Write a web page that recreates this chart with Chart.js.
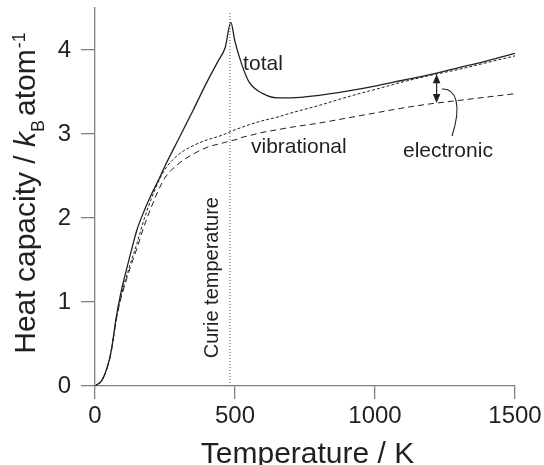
<!DOCTYPE html>
<html><head><meta charset="utf-8">
<script src="https://cdn.jsdelivr.net/npm/chart.js@4/dist/chart.umd.min.js"></script>
<style>html,body{margin:0;padding:0;background:#fff}#wrap{width:544px;height:465px}</style>
</head><body><div id="wrap"><canvas id="c" width="544" height="465"></canvas></div>
<script>
// ---- data ----
const temperatures = [0,25,50,60,75,90,100,125,150,175,200,225,250,300,350,400,440,465,485,500,525,550,600,650,700,800,900,1000,1100,1200,1300,1400,1500];
const totalHeatCapacity = [0,0.07,0.3,0.46,0.8,1.07,1.22,1.55,1.86,2.08,2.27,2.44,2.62,2.95,3.28,3.62,3.87,4.03,4.33,4.1,3.82,3.62,3.48,3.43,3.43,3.46,3.51,3.57,3.64,3.71,3.79,3.87,3.96];
const vibElecHeatCapacity = [0,0.07,0.29,0.45,0.78,1.03,1.16,1.44,1.7,1.98,2.22,2.42,2.58,2.76,2.86,2.93,2.97,3.0,3.03,3.05,3.08,3.11,3.16,3.2,3.25,3.34,3.44,3.53,3.62,3.70,3.77,3.85,3.93];
const vibrationalHeatCapacity = [0,0.07,0.29,0.45,0.77,1.01,1.13,1.4,1.64,1.9,2.12,2.32,2.48,2.65,2.76,2.84,2.88,2.9,2.92,2.93,2.96,2.98,3.02,3.05,3.08,3.13,3.19,3.25,3.31,3.36,3.40,3.44,3.48];
const xTickValues = [0,500,1000,1500];
const yTickValues = [0,1,2,3,4];
const curieLineT = [482,482];
const curieLineC = [0,4.44];
const electronicArrowT = [1220,1220];
const electronicArrowC = [3.71,3.37];
const calloutT = [1239,1289,1311,1275];
const calloutC = [3.536,3.548,3.345,2.976];
const labelTexts = ['total','vibrational','electronic'];
const labelT = [529,557,1100];
const labelC = [3.76,2.77,2.73];
const curieLabel = 'Curie temperature';
const curieLabelAt = [439,1.29];

const FONT = '"Liberation Sans", Arial, Helvetica, sans-serif';
const INK = '#231f20';
const AXIS = '#808080';

const pts = arr => temperatures.map((t,i)=>({x:t,y:arr[i]}));

const annot = {
  id:'annot',
  afterDatasetsDraw(chart){
    const {ctx, scales:{x,y}} = chart;
    ctx.save();
    ctx.fillStyle = INK; ctx.strokeStyle = INK;
    ctx.font = '21px ' + FONT;
    ctx.textAlign = 'left'; ctx.textBaseline = 'alphabetic';
    labelTexts.forEach((s,i)=>ctx.fillText(s, x.getPixelForValue(labelT[i]), y.getPixelForValue(labelC[i])));
    // Curie label (rotated)
    ctx.save();
    ctx.translate(x.getPixelForValue(curieLabelAt[0]), y.getPixelForValue(curieLabelAt[1]));
    ctx.rotate(-Math.PI/2);
    ctx.textAlign = 'center';
    ctx.font = '20px ' + FONT;
    ctx.fillText(curieLabel, 0, 0);
    ctx.restore();
    // double-headed arrow
    const ax = x.getPixelForValue(electronicArrowT[0]);
    const y1 = y.getPixelForValue(electronicArrowC[0]);
    const y2 = y.getPixelForValue(electronicArrowC[1]);
    const hl = 9, hw = 3.8;
    ctx.lineWidth = 1.2;
    ctx.beginPath(); ctx.moveTo(ax, y1+hl-1); ctx.lineTo(ax, y2-hl+1); ctx.stroke();
    ctx.beginPath(); ctx.moveTo(ax, y1); ctx.lineTo(ax-hw, y1+hl); ctx.lineTo(ax+hw, y1+hl); ctx.closePath(); ctx.fill();
    ctx.beginPath(); ctx.moveTo(ax, y2); ctx.lineTo(ax-hw, y2-hl); ctx.lineTo(ax+hw, y2-hl); ctx.closePath(); ctx.fill();
    // callout curve
    ctx.lineWidth = 1.1;
    ctx.beginPath();
    ctx.moveTo(x.getPixelForValue(calloutT[0]), y.getPixelForValue(calloutC[0]));
    ctx.bezierCurveTo(
      x.getPixelForValue(calloutT[1]), y.getPixelForValue(calloutC[1]),
      x.getPixelForValue(calloutT[2]), y.getPixelForValue(calloutC[2]),
      x.getPixelForValue(calloutT[3]), y.getPixelForValue(calloutC[3]));
    ctx.stroke();
    ctx.restore();
  },
  afterDraw(chart){
    const ctx = chart.ctx;
    ctx.save();
    ctx.fillStyle = INK;
    // x title
    ctx.font = '30px ' + FONT;
    ctx.textAlign = 'center'; ctx.textBaseline = 'alphabetic';
    ctx.fillText('Temperature / K', 307.5, 463);
    // y title with rich text
    const parts = [
      {t:'Heat capacity / ', f:'30px '+FONT, dy:0, gap:0},
      {t:'k', f:'italic 30px '+FONT, dy:0, gap:0},
      {t:'B', f:'18px '+FONT, dy:9, gap:0},
      {t:'atom', f:'30px '+FONT, dy:0, gap:4},
      {t:'-1', f:'18px '+FONT, dy:-10, gap:1}
    ];
    let total = 0;
    parts.forEach(p=>{ctx.font=p.f; p.w=ctx.measureText(p.t).width; total += p.w + p.gap;});
    ctx.translate(35, 193);
    ctx.rotate(-Math.PI/2);
    ctx.textAlign = 'left';
    let cx = -total/2;
    parts.forEach(p=>{ cx += p.gap; ctx.font=p.f; ctx.fillText(p.t, cx, p.dy); cx += p.w; });
    ctx.restore();
  }
};

new Chart(document.getElementById('c'), {
  type:'line',
  data:{
    datasets:[
      {label:'total', data:pts(totalHeatCapacity), borderColor:INK, borderWidth:1.3, pointRadius:0, cubicInterpolationMode:'monotone', fill:false},
      {label:'vibrational + electronic', data:pts(vibElecHeatCapacity), borderColor:INK, borderWidth:1, borderDash:[3,2], pointRadius:0, cubicInterpolationMode:'monotone', fill:false},
      {label:'vibrational', data:pts(vibrationalHeatCapacity), borderColor:INK, borderWidth:1, borderDash:[6,4], pointRadius:0, cubicInterpolationMode:'monotone', fill:false},
      {label:'Curie temperature', data:curieLineT.map((t,i)=>({x:t,y:curieLineC[i]})), borderColor:'#555', borderWidth:1, borderDash:[1,2], pointRadius:0, fill:false}
    ]
  },
  options:{
    responsive:false, animation:false, devicePixelRatio:1,
    layout:{padding:{left:0,right:29,top:8,bottom:0}},
    plugins:{legend:{display:false}, tooltip:{enabled:false}, title:{display:false}},
    scales:{
      x:{
        type:'linear', min:0, max:1500,
        afterBuildTicks: s => { s.ticks = xTickValues.map(v=>({value:v})); },
        afterFit: s => { s.height = 79; s.paddingLeft = 0; s.paddingRight = 0; },
        ticks:{color:INK, font:{family:FONT, size:24}, padding:3, maxRotation:0, callback: v => String(v)},
        grid:{drawOnChartArea:false, drawTicks:true, tickLength:13, color:AXIS, lineWidth:1.3},
        border:{color:AXIS, width:1.3},
        title:{display:false}
      },
      y:{
        type:'linear', min:0, max:4.5,
        afterBuildTicks: s => { s.ticks = yTickValues.map(v=>({value:v})); },
        afterFit: s => { s.width = 95; s.paddingTop = 0; s.paddingBottom = 0; },
        ticks:{color:INK, font:{family:FONT, size:24}, padding:10, callback: v => String(v)},
        grid:{drawOnChartArea:false, drawTicks:true, tickLength:14, color:AXIS, lineWidth:1.3},
        border:{color:AXIS, width:1.3},
        title:{display:false}
      }
    }
  },
  plugins:[annot]
});
</script></body></html>
